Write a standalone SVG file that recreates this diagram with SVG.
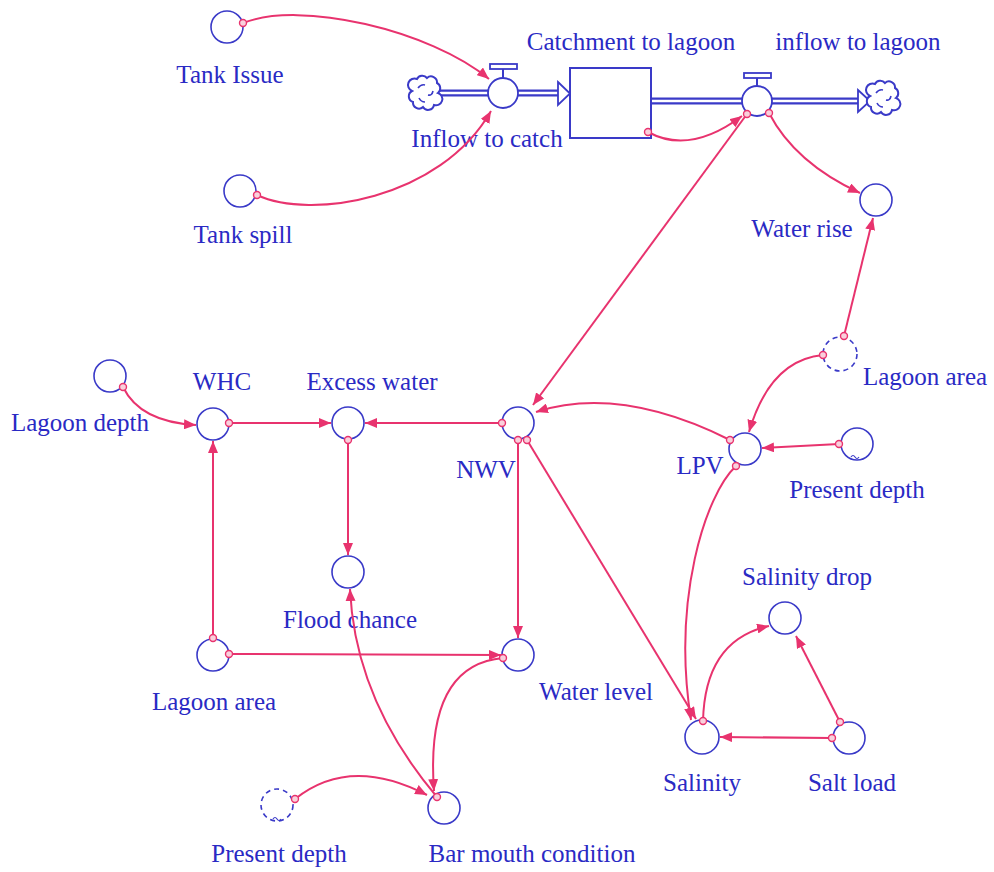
<svg xmlns="http://www.w3.org/2000/svg" width="994" height="872" viewBox="0 0 994 872">
<defs>
<style>
.n{fill:none;stroke:#3a3ac8;stroke-width:1.6}
.g{fill:none;stroke:#3a3ac8;stroke-width:1.6;stroke-dasharray:5,4}
.t{font-family:"Liberation Serif","Times New Roman",serif;font-size:25px;fill:#2a2ac4;text-anchor:middle}
.c{fill:none;stroke:#e8336e;stroke-width:2;marker-end:url(#ah)}
.d{fill:#f9d0dc;stroke:#e8336e;stroke-width:1.4}
.po{fill:none;stroke:#3a3ac8;stroke-width:7}
.pi{fill:none;stroke:#ffffff;stroke-width:2.5}
.fa{fill:#ffffff;stroke:#3a3ac8;stroke-width:1.8}
.cl{fill:#ffffff;stroke:#3a3ac8;stroke-width:2}
</style>
<marker id="ah" markerUnits="userSpaceOnUse" markerWidth="12" markerHeight="10" refX="12" refY="5" orient="auto">
<path d="M0,0 L12,5 L0,10 z" fill="#e8336e"/>
</marker>
<g id="cloud">
<path class="cl" d="M-8,-14 a6,6 0 0 1 10,-1 a6,6 0 0 1 10,5 a6,6 0 0 1 1,10 a6,6 0 0 1 -4,12 a6,6 0 0 1 -11,2 a6,6 0 0 1 -10,-5 a6,6 0 0 1 -1,-11 a6,6 0 0 1 5,-12 z"/>
<path d="M-7,-5 q3,-4 7,-3 M3,2 q4,1 5,-4 M-6,5 q2,4 6,4" fill="none" stroke="#3a3ac8" stroke-width="1.6"/>
</g>
</defs>
<rect width="994" height="872" fill="#ffffff"/>

<g id="flows">
<line class="po" x1="438" y1="93" x2="488" y2="93"/>
<line class="pi" x1="436" y1="93" x2="490" y2="93"/>
<line class="po" x1="518" y1="93" x2="559" y2="93"/>
<line class="pi" x1="516" y1="93" x2="560" y2="93"/>
<polygon class="fa" points="558,82 570,93.5 558,105"/>
<line class="po" x1="651" y1="101" x2="742" y2="101"/>
<line class="pi" x1="652" y1="101" x2="744" y2="101"/>
<line class="po" x1="772" y1="101" x2="859" y2="101"/>
<line class="pi" x1="770" y1="101" x2="860" y2="101"/>
<polygon class="fa" points="858,90 870,101 858,112"/>
</g>

<g id="source-cloud"><use href="#cloud" x="425" y="93"/></g>
<g id="sink-cloud"><use href="#cloud" x="883" y="98"/></g>

<g id="stock-catchment">
<rect x="570" y="68" width="81" height="70" fill="#ffffff" stroke="#3a3ac8" stroke-width="2"/>
<text class="t" x="631" y="50">Catchment to lagoon</text>
</g>

<g id="valve-inflow-to-catch">
<circle cx="503" cy="93" r="15" fill="#ffffff" stroke="#3a3ac8" stroke-width="1.8"/>
<line x1="503" y1="69" x2="503" y2="78" stroke="#3a3ac8" stroke-width="2"/>
<rect x="490" y="64" width="27" height="5" fill="#ffffff" stroke="#3a3ac8" stroke-width="1.8"/>
<text class="t" x="487" y="147">Inflow to catch</text>
</g>

<g id="valve-inflow-to-lagoon">
<circle cx="757" cy="101" r="15" fill="#ffffff" stroke="#3a3ac8" stroke-width="1.8"/>
<line x1="757" y1="78" x2="757" y2="86" stroke="#3a3ac8" stroke-width="2"/>
<rect x="744" y="73" width="27" height="5" fill="#ffffff" stroke="#3a3ac8" stroke-width="1.8"/>
<text class="t" x="858" y="50">inflow to lagoon</text>
</g>

<g id="tank-issue"><circle class="n" cx="227" cy="27" r="16"/><text class="t" x="230" y="83">Tank Issue</text></g>
<g id="tank-spill"><circle class="n" cx="240" cy="191" r="16"/><text class="t" x="243" y="243">Tank spill</text></g>
<g id="water-rise"><circle class="n" cx="876" cy="200" r="16"/><text class="t" x="802" y="237">Water rise</text></g>
<g id="lagoon-area-ghost"><circle class="g" cx="840" cy="354" r="17"/><text class="t" x="925" y="385">Lagoon area</text></g>
<g id="lpv"><circle class="n" cx="745" cy="449" r="16"/><text class="t" x="700" y="474">LPV</text></g>
<g id="present-depth-right"><circle class="n" cx="857" cy="444" r="16"/><path d="M851,457 q2,-3 4,0 q2,3 4,0" fill="none" stroke="#3a3ac8" stroke-width="1.2"/><text class="t" x="857" y="498">Present depth</text></g>
<g id="nwv"><circle class="n" cx="518" cy="423" r="16"/><text class="t" x="486" y="478">NWV</text></g>
<g id="excess-water"><circle class="n" cx="348" cy="423" r="16"/><text class="t" x="372" y="390">Excess water</text></g>
<g id="whc"><circle class="n" cx="213" cy="424" r="16"/><text class="t" x="222" y="390">WHC</text></g>
<g id="lagoon-depth"><circle class="n" cx="110" cy="376" r="16"/><text class="t" x="80" y="431">Lagoon depth</text></g>
<g id="flood-chance"><circle class="n" cx="348" cy="572" r="16"/><text class="t" x="350" y="628">Flood chance</text></g>
<g id="lagoon-area"><circle class="n" cx="213" cy="655" r="16"/><text class="t" x="214" y="710">Lagoon area</text></g>
<g id="water-level"><circle class="n" cx="518" cy="655" r="16"/><text class="t" x="596" y="700">Water level</text></g>
<g id="salinity-drop"><circle class="n" cx="785" cy="618" r="16"/><text class="t" x="807" y="585">Salinity drop</text></g>
<g id="salinity"><circle class="n" cx="702" cy="737" r="17"/><text class="t" x="702" y="791">Salinity</text></g>
<g id="salt-load"><circle class="n" cx="849" cy="738" r="16"/><text class="t" x="852" y="791">Salt load</text></g>
<g id="present-depth-ghost"><circle class="g" cx="277" cy="805" r="16"/><path d="M273,819 q2,-3 4,0 q2,3 4,0" fill="none" stroke="#3a3ac8" stroke-width="1.2"/><text class="t" x="279" y="862">Present depth</text></g>
<g id="bar-mouth-condition"><circle class="n" cx="444" cy="808" r="16"/><text class="t" x="532" y="862">Bar mouth condition</text></g>

<g id="connectors">
<path class="c" d="M243,23 C300,0 430,30 489,79"/>
<path class="c" d="M257,195 C310,220 440,200 491,111"/>
<path class="c" d="M648,132 Q690,155 742,116"/>
<path class="c" d="M747,114 L533,405"/>
<path class="c" d="M769,113 Q795,163 860,193"/>
<path class="c" d="M844,336 L873,218"/>
<path class="c" d="M823,355 Q770,360 749,432"/>
<path class="c" d="M839,444 L762,448"/>
<path class="c" d="M730,440 Q620,385 536,412"/>
<path class="c" d="M736,466 C705,495 672,600 691,720"/>
<path class="c" d="M527,440 L696,719"/>
<path class="c" d="M502,423 L365,423"/>
<path class="c" d="M229,423 L331,423"/>
<path class="c" d="M123,387 Q140,422 196,425"/>
<path class="c" d="M348,440 L348,555"/>
<path class="c" d="M213,638 L213,441"/>
<path class="c" d="M229,654 L501,655"/>
<path class="c" d="M518,440 L518,638"/>
<path class="c" d="M437,797 Q355,700 350,589"/>
<path class="c" d="M503,658 Q425,665 434,791"/>
<path class="c" d="M295,799 Q350,755 427,795"/>
<path class="c" d="M703,721 Q705,640 769,626"/>
<path class="c" d="M840,722 L796,636"/>
<path class="c" d="M832,738 L720,737"/>
</g>

<g id="origin-dots">
<circle class="d" cx="243" cy="23" r="3.5"/>
<circle class="d" cx="257" cy="195" r="3.5"/>
<circle class="d" cx="648" cy="132" r="3.5"/>
<circle class="d" cx="747" cy="114" r="3.5"/>
<circle class="d" cx="769" cy="113" r="3.5"/>
<circle class="d" cx="844" cy="336" r="3.5"/>
<circle class="d" cx="823" cy="355" r="3.5"/>
<circle class="d" cx="839" cy="444" r="3.5"/>
<circle class="d" cx="730" cy="440" r="3.5"/>
<circle class="d" cx="736" cy="466" r="3.5"/>
<circle class="d" cx="527" cy="440" r="3.5"/>
<circle class="d" cx="518" cy="440" r="3.5"/>
<circle class="d" cx="502" cy="423" r="3.5"/>
<circle class="d" cx="229" cy="423" r="3.5"/>
<circle class="d" cx="123" cy="387" r="3.5"/>
<circle class="d" cx="348" cy="440" r="3.5"/>
<circle class="d" cx="213" cy="638" r="3.5"/>
<circle class="d" cx="229" cy="654" r="3.5"/>
<circle class="d" cx="437" cy="797" r="3.5"/>
<circle class="d" cx="503" cy="658" r="3.5"/>
<circle class="d" cx="295" cy="799" r="3.5"/>
<circle class="d" cx="703" cy="721" r="3.5"/>
<circle class="d" cx="840" cy="722" r="3.5"/>
<circle class="d" cx="832" cy="738" r="3.5"/>
</g>
</svg>
